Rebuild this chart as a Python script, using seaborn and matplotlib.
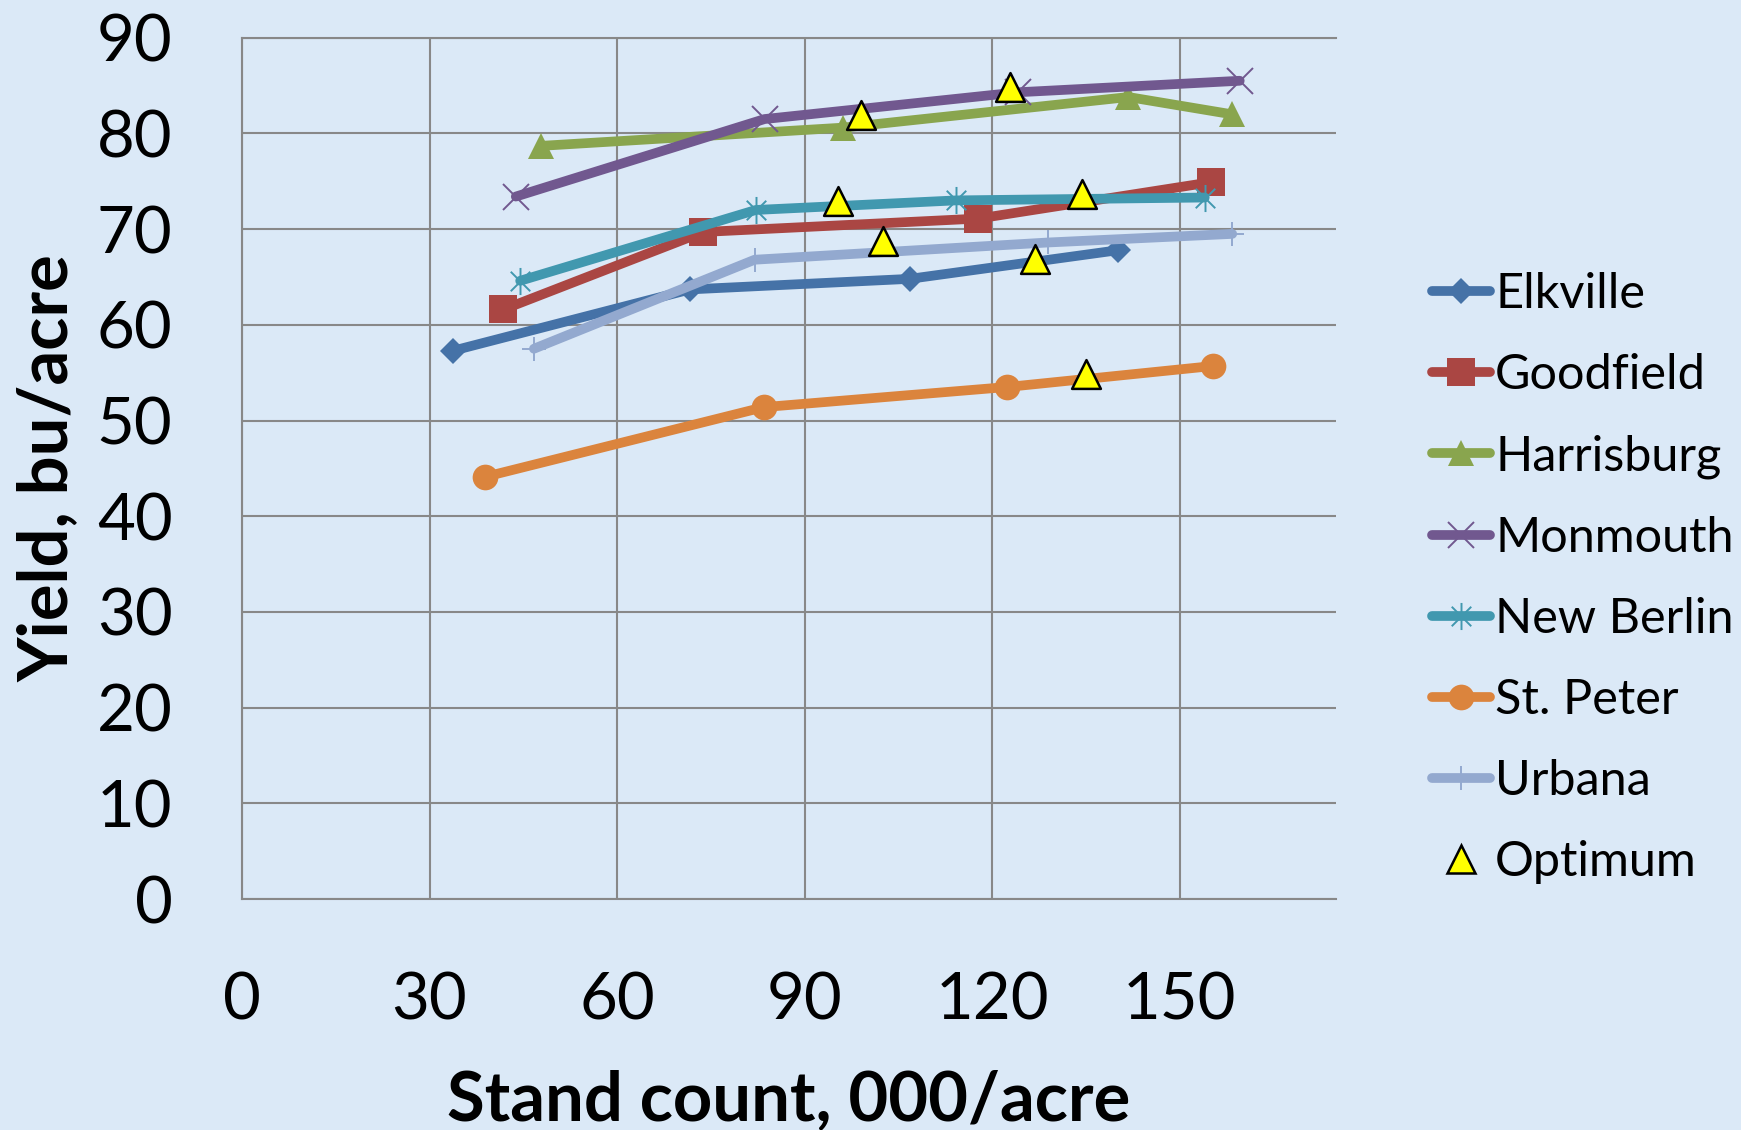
import numpy as np
import pandas as pd
import matplotlib
matplotlib.use("Agg")
import matplotlib.pyplot as plt
from matplotlib.path import Path
from matplotlib.lines import Line2D
import seaborn as sns

# ---- data ----
sites = ["Elkville", "Goodfield", "Harrisburg", "Monmouth", "New Berlin", "St. Peter", "Urbana"]
elkville_x = [33.8, 71.7, 106.8, 140.2]
elkville_y = [57.3, 63.7, 64.8, 67.8]
goodfield_x = [41.8, 73.8, 117.8, 155.0]
goodfield_y = [61.6, 69.7, 71.1, 74.9]
harrisburg_x = [47.9, 96.1, 141.8, 158.3]
harrisburg_y = [78.7, 80.6, 83.8, 82.0]
monmouth_x = [43.8, 83.6, 124.2, 159.6]
monmouth_y = [73.4, 81.5, 84.3, 85.5]
newberlin_x = [44.5, 82.2, 114.2, 154.0]
newberlin_y = [64.6, 72.0, 73.0, 73.3]
stpeter_x = [38.8, 83.5, 122.4, 155.4]
stpeter_y = [44.1, 51.4, 53.5, 55.7]
urbana_x = [46.7, 82.0, 128.9, 158.4]
urbana_y = [57.5, 66.8, 68.6, 69.5]
optimum_x = [99.0, 95.4, 102.5, 122.8, 134.3, 126.8, 135.0]
optimum_y = [81.9, 72.9, 68.8, 84.8, 73.7, 66.9, 54.9]
x_ticks = [0, 30, 60, 90, 120, 150]
y_ticks = [0, 10, 20, 30, 40, 50, 60, 70, 80, 90]

series_x = [elkville_x, goodfield_x, harrisburg_x, monmouth_x, newberlin_x, stpeter_x, urbana_x]
series_y = [elkville_y, goodfield_y, harrisburg_y, monmouth_y, newberlin_y, stpeter_y, urbana_y]

# ---- style ----
sns.set_theme(style="white")
plt.rcParams["font.family"] = ["Lato", "DejaVu Sans"]

colors = ["#4572A7", "#AA4643", "#89A54E", "#71588F", "#4198AF", "#DB843D", "#93A9CF"]
asterisk = Path([(0, -1), (0, 1), (-0.72, -0.72), (0.72, 0.72), (-0.72, 0.72), (0.72, -0.72)],
                [Path.MOVETO, Path.LINETO, Path.MOVETO, Path.LINETO, Path.MOVETO, Path.LINETO])
markers = ["D", "s", "^", "x", asterisk, "o", "+"]
msizes = [13, 19.5, 18.5, 18.5, 19.5, 18.5, 17.5]
mews = [0, 0, 0, 1.4, 1.4, 0, 1.4]
bg = "#dbe9f7"

fig = plt.figure(figsize=(17.41, 11.30), dpi=100, facecolor=bg)
ax = fig.add_axes([242 / 1741, 1 - 899 / 1130, (1336 - 242) / 1741, (899 - 37.7) / 1130])
ax.set_facecolor(bg)

rows = []
for name, xs, ys in zip(sites, series_x, series_y):
    for xv, yv in zip(xs, ys):
        rows.append({"site": name, "stand": xv, "yield": yv})
df = pd.DataFrame(rows)

handles = []
for i, name in enumerate(sites):
    sub = df[df["site"] == name]
    kw = dict(color=colors[i], lw=7, marker=markers[i], ms=msizes[i],
              mfc=colors[i], mec=colors[i], mew=mews[i],
              solid_capstyle="round", solid_joinstyle="round")
    sns.lineplot(data=sub, x="stand", y="yield", ax=ax, sort=False, estimator=None,
                 legend=False, zorder=3 + i * 0.1, **kw)
    handles.append(Line2D([], [], label=name, **kw))

sns.scatterplot(x=optimum_x, y=optimum_y, ax=ax, marker="^", s=430, color="#FFFF00",
                edgecolor="black", linewidth=1.8, zorder=10, legend=False)
handles.append(Line2D([], [], label="Optimum", ls="none", marker="^", ms=20,
                      mfc="#FFFF00", mec="black", mew=1.8))

ax.set_xlim(0, 175)
ax.set_ylim(0, 90)
ax.set_xticks(x_ticks)
ax.set_yticks(y_ticks)
ax.grid(True, color="#888888", lw=1.5)
ax.set_axisbelow(True)
for s in ["left", "bottom", "top"]:
    ax.spines[s].set_color("#888888")
    ax.spines[s].set_linewidth(1.5)
ax.spines["right"].set_visible(False)
ax.tick_params(axis="both", length=0, labelsize=47, colors="black")
ax.tick_params(axis="y", pad=50)
ax.tick_params(axis="x", pad=52)

ax.set_xlabel("Stand count, 000/acre", fontsize=49.5, fontweight="bold", color="black")
ax.set_ylabel("Yield, bu/acre", fontsize=49.5, fontweight="bold", color="black")
ax.xaxis.set_label_coords(0.5, (899 - 1120) / (899 - 37.7))
ax.xaxis.label.set_va("baseline")
ax.yaxis.set_label_coords((80 - 242) / 1094, 0.5)

leg = fig.legend(handles=handles, loc="center left",
                 bbox_to_anchor=(1432 / 1741, 1 - 578 / 1130),
                 frameon=False, fontsize=35, handlelength=1.2, handletextpad=0.1,
                 labelspacing=0.76, borderpad=0, borderaxespad=0)
for t in leg.get_texts():
    t.set_color("black")

fig.savefig("out.png", dpi=100, facecolor=bg)
